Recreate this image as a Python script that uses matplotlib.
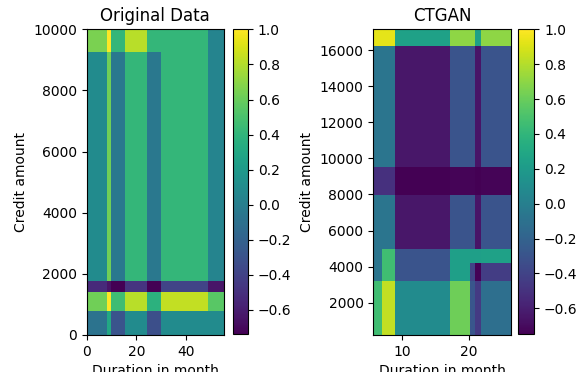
import numpy
from matplotlib import pyplot as plt

# cell edges along duration / credit amount, and the matrix of values per cell
orig_x_edges = [0, 8.3, 9.7, 15.3, 24.1, 30.0, 48.9, 55.0]
orig_y_edges = [0, 785, 1398, 1767, 9250, 10000]
orig_values = [
    [-0.08, 0.30, -0.29, 0.095, -0.32, 0.095, 0.095],   # 0 - 785
    [0.62, 1.00, 0.46, 0.81, 0.37, 0.84, 0.55],         # 785 - 1398
    [-0.53, -0.65, -0.74, -0.48, -0.74, -0.39, -0.64],  # 1398 - 1767
    [0.095, 0.62, -0.04, 0.41, -0.04, 0.41, 0.043],     # 1767 - 9250
    [0.65, 1.00, 0.41, 0.81, 0.41, 0.41, 0.043],        # 9250 - 10000
]

ctgan_x_edges = [5.6, 6.88, 8.9, 17.2, 20.15, 21.0, 21.9, 26.3]
ctgan_y_edges = [222, 3222, 4222, 4967, 7980, 9500, 16240, 17150]
ctgan_values = [
    [0.46, 0.84, 0.09, 0.615, -0.28, -0.45, -0.12],     # 222 - 3222
    [-0.07, 0.46, -0.295, 0.23, -0.40, -0.74, -0.44],   # 3222 - 4222
    [-0.07, 0.46, -0.295, 0.23, 0.23, 0.23, 0.25],      # 4222 - 4967
    [-0.07, -0.07, -0.645, -0.295, -0.295, -0.66, -0.295],  # 4967 - 7980
    [-0.505, -0.505, -0.75, -0.73, -0.73, -0.75, -0.73],    # 7980 - 9500
    [-0.07, -0.07, -0.645, -0.295, -0.295, -0.66, -0.295],  # 9500 - 16240
    [0.93, 0.93, 0.25, 0.70, 0.70, 0.25, 0.70],         # 16240 - 17150
]

# colour range of each panel's colorbar
value_limits = [(-0.74, 1.0), (-0.75, 1.0)]

panels = [
    ("Original Data", orig_x_edges, orig_y_edges, orig_values),
    ("CTGAN", ctgan_x_edges, ctgan_y_edges, ctgan_values),
]

fig = plt.figure(figsize=(5.78, 3.72), dpi=100)
ax_pos = [[0.150, 0.100, 0.2367, 0.821], [0.6459, 0.100, 0.2374, 0.821]]
cb_pos = [[0.4026, 0.101, 0.0265, 0.820], [0.8967, 0.101, 0.0277, 0.820]]

for i, (title, xe, ye, vals) in enumerate(panels):
    ax = fig.add_axes(ax_pos[i])
    cax = fig.add_axes(cb_pos[i])
    vmin, vmax = value_limits[i]
    mesh = ax.pcolormesh(numpy.array(xe), numpy.array(ye), numpy.array(vals),
                         cmap="viridis", shading="flat", vmin=vmin, vmax=vmax)
    ax.set_xlim(xe[0], xe[-1])
    ax.set_ylim(ye[0], ye[-1])
    ax.set_title(title)
    ax.set_xlabel("Duration in month")
    ax.set_ylabel("Credit amount")
    fig.colorbar(mesh, cax=cax)

plt.savefig("out.png", dpi=100)
